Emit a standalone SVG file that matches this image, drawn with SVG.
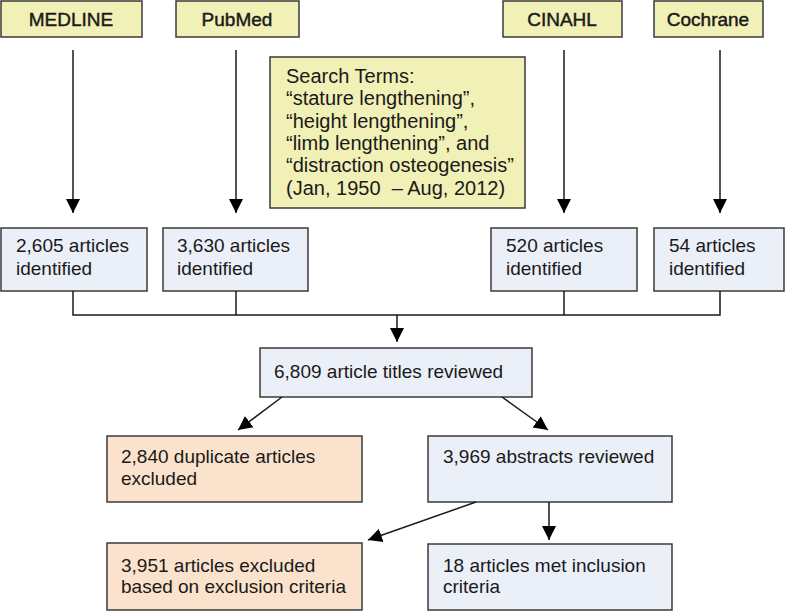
<svg xmlns="http://www.w3.org/2000/svg" width="787" height="612" viewBox="0 0 787 612">
<style>
.box{stroke:#3a3a3a;stroke-width:1.5}
.y{fill:#f1f0b6}
.b{fill:#ebeff8}
.p{fill:#fbe2cc}
text{font-family:"Liberation Sans",Arial,sans-serif;font-size:19px;fill:#1a1a1a}
.s{font-size:20px}
.h{text-anchor:middle;stroke:#1a1a1a;stroke-width:0.45}
.c{fill:none;stroke:#1a1a1a;stroke-width:1.5}
</style>
<defs>
<marker id="ah" markerUnits="userSpaceOnUse" markerWidth="16" markerHeight="16" viewBox="0 0 16 16" refX="14" refY="8" orient="auto">
<path d="M0,1 L14,8 L0,15 Z" fill="#000"/>
</marker>
</defs>
<g id="medline"><rect class="box y" x="1" y="1" width="141" height="36"/><text class="h" x="71" y="26">MEDLINE</text></g>
<g id="pubmed"><rect class="box y" x="176" y="1" width="123" height="36"/><text class="h" x="237" y="26">PubMed</text></g>
<g id="cinahl"><rect class="box y" x="503" y="1" width="119" height="36"/><text class="h" x="562" y="26">CINAHL</text></g>
<g id="cochrane"><rect class="box y" x="654" y="1" width="109" height="36"/><text class="h" x="708" y="26">Cochrane</text></g>
<g id="search"><rect class="box y" x="270" y="57" width="255" height="151"/>
<text class="s" x="286" y="83">Search Terms:</text>
<text class="s" x="286" y="105">“stature lengthening”,</text>
<text class="s" x="286" y="127.5">“height lengthening”,</text>
<text class="s" x="286" y="150">“limb lengthening”, and</text>
<text class="s" x="286" y="172">“distraction osteogenesis”</text>
<text class="s" x="286" y="194.5" xml:space="preserve">(Jan, 1950  – Aug, 2012)</text></g>
<g id="n2605"><rect class="box b" x="1" y="228" width="146" height="63"/><text x="16" y="252">2,605 articles</text><text x="16" y="275">identified</text></g>
<g id="n3630"><rect class="box b" x="163" y="228" width="145" height="63"/><text x="177" y="252">3,630 articles</text><text x="177" y="275">identified</text></g>
<g id="n520"><rect class="box b" x="491" y="228" width="146" height="63"/><text x="506" y="252">520 articles</text><text x="506" y="275">identified</text></g>
<g id="n54"><rect class="box b" x="654" y="228" width="130" height="63"/><text x="669" y="252">54 articles</text><text x="669" y="275">identified</text></g>
<g id="titles"><rect class="box b" x="260" y="348" width="272" height="49"/><text x="274" y="378">6,809 article titles reviewed</text></g>
<g id="dup"><rect class="box p" x="107" y="436" width="255" height="66"/><text x="121" y="463">2,840 duplicate articles</text><text x="121" y="485">excluded</text></g>
<g id="abstracts"><rect class="box b" x="428" y="436" width="244" height="66"/><text x="443" y="463">3,969 abstracts reviewed</text></g>
<g id="excl"><rect class="box p" x="107" y="543" width="255" height="67"/><text x="121" y="572">3,951 articles excluded</text><text x="121" y="593">based on exclusion criteria</text></g>
<g id="incl"><rect class="box b" x="428" y="544" width="244" height="66"/><text x="443" y="572">18 articles met inclusion</text><text x="443" y="593">criteria</text></g>
<g id="connectors">
<line class="c" x1="73" y1="50" x2="73" y2="213" marker-end="url(#ah)"/>
<line class="c" x1="236" y1="50" x2="236" y2="213" marker-end="url(#ah)"/>
<line class="c" x1="564" y1="50" x2="564" y2="213" marker-end="url(#ah)"/>
<line class="c" x1="720" y1="50" x2="720" y2="213" marker-end="url(#ah)"/>
<polyline class="c" points="73,291 73,315 720,315 720,291"/>
<line class="c" x1="236" y1="291" x2="236" y2="315"/>
<line class="c" x1="564" y1="291" x2="564" y2="315"/>
<line class="c" x1="397" y1="315" x2="397" y2="342" marker-end="url(#ah)"/>
<line class="c" x1="282" y1="397" x2="238" y2="430" marker-end="url(#ah)"/>
<line class="c" x1="502" y1="397" x2="548" y2="430" marker-end="url(#ah)"/>
<line class="c" x1="476" y1="502" x2="368" y2="540" marker-end="url(#ah)"/>
<line class="c" x1="549" y1="502" x2="549" y2="540" marker-end="url(#ah)"/>
</g>
</svg>
